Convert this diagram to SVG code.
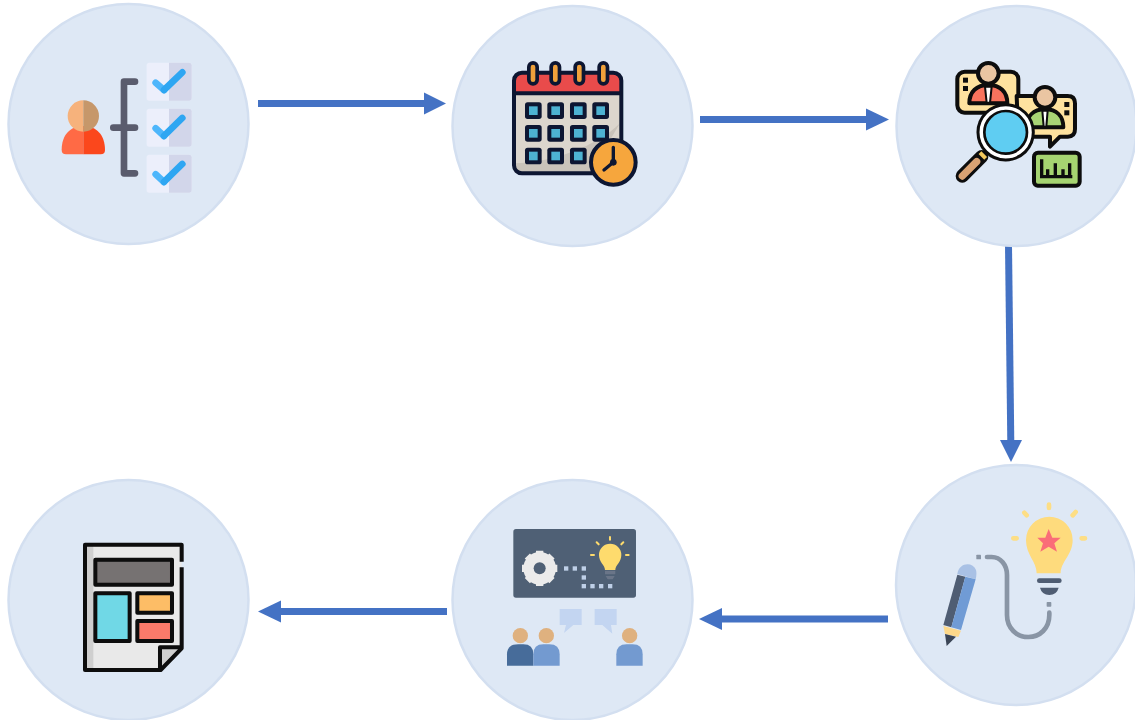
<svg xmlns="http://www.w3.org/2000/svg" width="1135" height="720" viewBox="0 0 1135 720">
<defs><filter id="soft" x="-5%" y="-5%" width="110%" height="110%"><feGaussianBlur stdDeviation="0.45"/></filter></defs>
<style>
.c{fill:#dee8f5;stroke:#d3dff0;stroke-width:2.5}
.a{stroke:#4472c4;stroke-width:7;fill:none}
.h{fill:#4472c4}
.k{fill:none;stroke-linecap:round;stroke-linejoin:round}
.d{stroke:#0b1530;stroke-width:12}
.b{stroke:#0a0a0a;stroke-width:12;stroke-linejoin:round}
.i{filter:url(#soft)}
</style>
<g id="connectors">
<path class="a" d="M258 103.500H426"/><path class="h" d="M424 92.500L446 103.500L424 114.500Z"/>
<path class="a" d="M700 119.500H869"/><path class="h" d="M866 108.500L889 119.500L866 130.500Z"/>
<path class="a" d="M1008.500 245L1010.800 442"/><path class="h" d="M1000 440L1011 462L1022 440Z"/>
<path class="a" d="M888 619H719"/><path class="h" d="M722 608L699 619L722 630Z"/>
<path class="a" d="M447 611.500H278"/><path class="h" d="M281 600.500L258 611.500L281 622.500Z"/>
</g>
<g id="node1">
<circle class="c" cx="128.500" cy="124" r="120"/>
<g class="i" transform="translate(40 40) scale(.3333)">
<path d="M65 330C65 285 90 258 130 258V343H78Q65 343 65 330Z" fill="#ff6a45"/>
<path d="M195 330C195 285 170 258 130 258V343H182Q195 343 195 330Z" fill="#fb471f"/>
<path d="M130 181A47 47 0 0 0 130 275Z" fill="#f6b27b"/>
<path d="M130 181A47 47 0 0 1 130 275Z" fill="#c6976b"/>
<g id="boxes1">
<rect x="320" y="68" width="135" height="114" rx="8" fill="#eceffb"/><path d="M387 68H447Q455 68 455 76V174Q455 182 447 182H387Z" fill="#d2d6ea"/>
<rect x="320" y="206" width="135" height="114" rx="8" fill="#eceffb"/><path d="M387 206H447Q455 206 455 214V312Q455 320 447 320H387Z" fill="#d2d6ea"/>
<rect x="320" y="344" width="135" height="114" rx="8" fill="#eceffb"/><path d="M387 344H447Q455 344 455 352V450Q455 458 447 458H387Z" fill="#d2d6ea"/>
</g>
<path class="k" stroke="#5a5c6d" stroke-width="20" d="M285 125H252V400H285M220 263H285"/>
<path class="k" stroke="#4db6fb" stroke-width="20" d="M347 128L372 150"/>
<path class="k" stroke="#2ea6f2" stroke-width="20" d="M372 150L427 97"/>
<path class="k" stroke="#4db6fb" stroke-width="20" d="M347 265L372 288"/>
<path class="k" stroke="#2ea6f2" stroke-width="20" d="M372 288L427 234"/>
<path class="k" stroke="#4db6fb" stroke-width="20" d="M347 403L372 426"/>
<path class="k" stroke="#2ea6f2" stroke-width="20" d="M372 426L427 372"/>
</g>
</g>
<g id="node2">
<circle class="c" cx="572.500" cy="126" r="120"/>
<g class="i" transform="translate(490 40) scale(.3333)">
<rect x="72" y="98" width="322" height="302" rx="24" fill="#dcd6cd"/>
<path d="M72 370V376Q72 400 96 400H300L390 250C320 320 180 370 72 370Z" fill="#c9c3ba"/>
<path d="M72 160V122Q72 98 96 98H370Q394 98 394 122V160Z" fill="#e94b4b"/>
<rect x="72" y="98" width="322" height="302" rx="24" fill="none" class="d"/>
<path class="d" d="M72 160H394" fill="none"/>
<g fill="#0b1530">
<rect x="111" y="63" width="36" height="74" rx="18"/><rect x="178" y="63" width="36" height="74" rx="18"/><rect x="250" y="63" width="36" height="74" rx="18"/><rect x="322" y="63" width="36" height="74" rx="18"/>
</g>
<g fill="#f0a13b">
<rect x="122" y="74" width="14" height="52" rx="7"/><rect x="189" y="74" width="14" height="52" rx="7"/><rect x="261" y="74" width="14" height="52" rx="7"/><rect x="333" y="74" width="14" height="52" rx="7"/>
</g>
<g fill="#0b1530">
<rect x="105" y="187" width="50" height="50" rx="8"/><rect x="172" y="187" width="50" height="50" rx="8"/><rect x="240" y="187" width="50" height="50" rx="8"/><rect x="307" y="187" width="50" height="50" rx="8"/>
<rect x="105" y="255" width="50" height="50" rx="8"/><rect x="172" y="255" width="50" height="50" rx="8"/><rect x="240" y="255" width="50" height="50" rx="8"/><rect x="307" y="255" width="50" height="50" rx="8"/>
<rect x="105" y="323" width="50" height="50" rx="8"/><rect x="172" y="323" width="50" height="50" rx="8"/><rect x="240" y="323" width="50" height="50" rx="8"/>
</g>
<g fill="#4eb2d2">
<rect x="117" y="199" width="26" height="26"/><rect x="184" y="199" width="26" height="26"/><rect x="252" y="199" width="26" height="26"/><rect x="319" y="199" width="26" height="26"/>
<rect x="117" y="267" width="26" height="26"/><rect x="184" y="267" width="26" height="26"/><rect x="252" y="267" width="26" height="26"/><rect x="319" y="267" width="26" height="26"/>
<rect x="117" y="335" width="26" height="26"/><rect x="184" y="335" width="26" height="26"/><rect x="252" y="335" width="26" height="26"/>
</g>
<circle cx="370" cy="367" r="67" fill="#f6a63c" stroke="#0b1530" stroke-width="12"/>
<path class="k" stroke="#0b1530" stroke-width="10" d="M370 322V367L342 390"/>
<circle cx="370" cy="367" r="10" fill="#0b1530"/>
</g>
</g>
<g id="node3">
<circle class="c" cx="1016.500" cy="126" r="120"/>
<g class="i" transform="translate(935 40) scale(.3333)">
<rect x="67" y="95" width="183" height="123" rx="22" fill="#fee29f" class="b"/>
<rect x="84" y="113" width="15" height="15" fill="#0a0a0a"/><rect x="84" y="138" width="15" height="15" fill="#0a0a0a"/>
<path d="M103 190C103 155 125 135 160 135C195 135 217 155 217 190Z" fill="#f8735d" class="b"/>
<path d="M150 140L170 140L165 188H155Z" fill="#fff" stroke="#0a0a0a" stroke-width="6"/>
<circle cx="160" cy="100" r="31" fill="#eac5a2" class="b"/>
<path d="M245 168H398Q420 168 420 190V268Q420 290 398 290H375L345 320V290H250Z" fill="#fee29f" class="b"/>
<rect x="388" y="186" width="15" height="15" fill="#0a0a0a"/><rect x="388" y="211" width="15" height="15" fill="#0a0a0a"/>
<path d="M275 262C275 228 295 208 330 208C365 208 385 228 385 262Z" fill="#a8d474" class="b"/>
<path d="M322 212H338L334 260H326Z" fill="#fff" stroke="#0a0a0a" stroke-width="6"/>
<circle cx="330" cy="172" r="31" fill="#eac5a2" class="b"/>
<path class="k" stroke="#0a0a0a" stroke-width="40" d="M140 350L82 408"/>
<path class="k" stroke="#d9a273" stroke-width="22" d="M125 365L82 408"/>
<path stroke="#f4c95d" stroke-width="12" d="M135 338L152 355"/>
<circle cx="212" cy="277" r="83" fill="#fff" stroke="#0a0a0a" stroke-width="9"/>
<circle cx="212" cy="277" r="64" fill="#5ecdf2" stroke="#0a0a0a" stroke-width="8"/>
<rect x="297" y="338" width="137" height="99" rx="12" fill="#a6d471" class="b"/>
<path fill="none" stroke="#0a0a0a" stroke-width="10" d="M320 358V410H412M338 410V388M361 410V370M384 410V388M404 410V370"/>
</g>
</g>
<g id="node4">
<circle class="c" cx="1016" cy="585" r="120"/>
<g class="i" transform="translate(930 490) scale(.3333)">
<path class="k" stroke="#fdde85" stroke-width="14" d="M357 44V54M283 68L290 76M437 66L428 76M250 145H260M465 145H455"/>
<path d="M320 250C320 215 288 195 288 150A70 70 0 0 1 428 150C428 195 392 215 392 250Z" fill="#fedb7d"/>
<path d="M356 117L367 143L392 143L373 160L381 185L356 170L331 185L339 160L322 143L346 143Z" fill="#fa6d78"/>
<path class="k" stroke="#4f5d73" stroke-width="14" d="M328 272H388"/>
<path d="M330 293H386Q380 315 358 315Q336 315 330 293Z" fill="#4f5d73"/>
<rect x="350" y="336" width="14" height="14" rx="2" fill="#8995a5"/>
<rect x="139" y="194" width="14" height="14" rx="2" fill="#8995a5"/>
<path class="k" stroke="#8995a5" stroke-width="14" d="M171 201H185C212 201 231 225 231 255V375C231 415 260 441 295 441C330 441 358 415 358 375V368"/>
<path d="M82 252C86 218 128 214 138 240Q141 250 137 268Z" fill="#a9c1e5"/>
<path d="M82 254L106 260L64 412L40 405Z" fill="#4f5d73"/>
<path d="M106 260L137 268L93 420L64 412Z" fill="#6f9bd5"/>
<path d="M40 408L93 422L85 441L45 432Z" fill="#fdd88a"/>
<path d="M45 432L78 440L50 468Z" fill="#3a4456"/>
</g>
</g>
<g id="node5">
<circle class="c" cx="572.500" cy="600" r="120"/>
<g class="i" transform="translate(490 515) scale(.3333)">
<rect x="70" y="42" width="368" height="206" rx="8" fill="#4f6074"/>
<circle cx="149" cy="160" r="34" fill="none" stroke="#ebebeb" stroke-width="30"/>
<path stroke="#ebebeb" stroke-width="22" d="M149 107V213M96 160H202M112 123L186 197M186 123L112 197"/>
<circle cx="149" cy="160" r="18" fill="#4f6074"/>
<g fill="#bfd0e8">
<rect x="222" y="154" width="13" height="13"/><rect x="248" y="154" width="13" height="13"/><rect x="275" y="154" width="13" height="13"/><rect x="275" y="181" width="13" height="13"/><rect x="275" y="207" width="13" height="13"/><rect x="301" y="207" width="13" height="13"/><rect x="327" y="207" width="13" height="13"/><rect x="354" y="207" width="13" height="13"/>
</g>
<path d="M345 165C345 150 327 142 327 120A33 33 0 0 1 394 120C394 142 376 150 376 165Z" fill="#fedb6d"/>
<path fill="#6a7588" d="M345 167H376V178H345ZM347 183H374L368 193H353Z"/>
<path class="k" stroke="#fedb6d" stroke-width="6" d="M360 66V74M320 82L326 88M400 82L394 88M303 120H312M408 120H416"/>
<path d="M209 282H275V330H250L222 354L228 330H209Z" fill="#c3d5f1"/>
<path d="M314 282H380V330H363L367 356L337 330H314Z" fill="#c3d5f1"/>
<circle cx="91" cy="362" r="23" fill="#dfb17f"/><circle cx="169" cy="362" r="23" fill="#dfb17f"/><circle cx="419" cy="362" r="23" fill="#dfb17f"/>
<path d="M51 452V418Q51 388 85 388H100Q130 388 130 418V452Z" fill="#466c9a"/>
<path d="M130 452V418Q130 388 160 388H178Q209 388 209 418V452Z" fill="#739ad0"/>
<path d="M379 452V418Q379 388 410 388H428Q458 388 458 418V452Z" fill="#739ad0"/>
</g>
</g>
<g id="node6">
<circle class="c" cx="128.500" cy="600" r="120"/>
<g class="i" transform="translate(60 530) scale(.3333)">
<path d="M75 44H365V355L300 420H75Z" fill="#e9e9e9"/>
<path d="M75 44H100V420H75Z" fill="#cfcfcf"/>
<path d="M305 350H365L305 415Z" fill="#cfcfcf"/>
<path fill="none" class="b" d="M365 95V44H75V420H302L365 355V112M365 352H300V420"/>
<rect x="106" y="89" width="230" height="75" fill="#767272" class="b"/>
<rect x="106" y="190" width="103" height="143" fill="#6fd8e6" class="b"/>
<rect x="232" y="190" width="104" height="58" fill="#fdbd66" class="b"/>
<rect x="232" y="273" width="104" height="60" fill="#fb7a6a" class="b"/>
</g>
</g>
</svg>
